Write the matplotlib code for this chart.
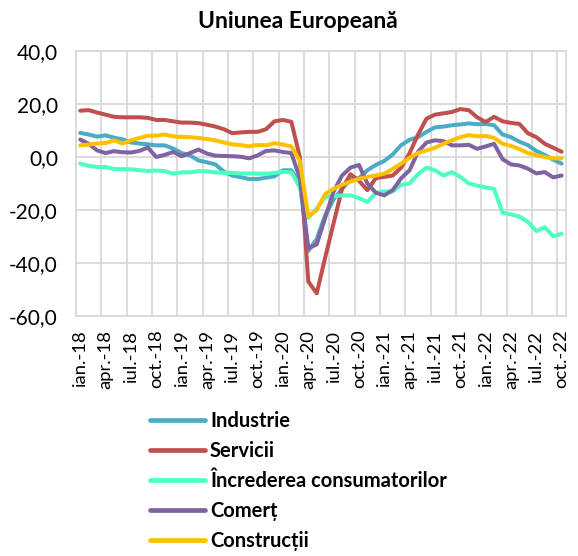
import numpy as np
import matplotlib
matplotlib.use("Agg")
import matplotlib.pyplot as plt

plt.rcParams['font.family'] = ['Lato', 'DejaVu Sans']

# luni ian.-18 ... oct.-22 (58 valori)
years = ['18', '19', '20', '21', '22']
months = ['ian.', 'feb.', 'mar.', 'apr.', 'mai', 'iun.', 'iul.', 'aug.', 'sep.', 'oct.', 'nov.', 'dec.']
labels = [m + '-' + y for y in years for m in months][:58]

industrie = [9.1, 8.5, 7.7, 8.2, 7.3, 6.7, 5.5, 5.1, 4.8, 4.4, 4.4, 3.2,
             1.5, 0.6, -1.3, -2.0, -2.8, -5.5, -7.0, -7.6, -8.3, -8.3, -7.8, -7.3,
             -5.0, -5.0, -10.0, -35.5, -31.0, -22.0, -16.0, -12.0, -8.5, -8.0, -5.0, -3.0,
             -1.5, 1.0, 4.5, 6.5, 7.5, 9.5, 11.2, 11.5, 12.0, 12.3, 12.7, 12.4,
             12.5, 12.0, 8.5, 7.5, 5.8, 4.5, 2.3, 0.8, -1.0, -2.5]
servicii = [17.5, 17.7, 16.8, 16.0, 15.2, 15.0, 15.0, 15.0, 14.8, 14.0, 14.0, 13.5,
            13.0, 13.0, 12.8, 12.2, 11.5, 10.5, 9.0, 9.3, 9.5, 9.5, 10.5, 13.5,
            14.0, 13.3, 0.0, -47.0, -51.5, -38.0, -25.0, -12.0, -6.5, -9.0, -12.5, -8.0,
            -7.5, -7.0, -4.0, 1.5, 8.5, 14.5, 16.0, 16.5, 17.0, 18.1, 17.7, 15.0,
            13.2, 15.2, 13.5, 12.9, 12.5, 9.0, 7.5, 5.0, 3.5, 2.0]
consumatori = [-2.5, -3.3, -3.8, -3.8, -4.5, -4.6, -4.6, -5.0, -5.3, -5.1, -5.3, -6.3,
               -5.8, -5.8, -5.3, -5.4, -5.8, -6.0, -6.0, -6.2, -6.2, -6.3, -6.3, -6.0,
               -5.6, -5.8, -11.5, -23.0, -19.5, -15.0, -14.8, -14.5, -14.5, -15.5, -17.0, -13.5,
               -13.0, -13.0, -10.5, -10.0, -6.5, -4.0, -5.0, -7.0, -5.7, -7.5, -10.0, -10.8,
               -11.5, -12.0, -21.0, -21.7, -22.5, -24.5, -28.0, -26.5, -30.0, -29.0]
comert = [6.6, 5.0, 2.5, 1.5, 2.2, 1.8, 1.7, 2.3, 3.6, 0.0, 0.8, 1.9,
          0.3, 1.5, 2.8, 1.3, 0.5, 0.4, 0.3, 0.1, -0.5, 0.6, 2.3, 2.5,
          1.9, 1.5, -8.0, -34.5, -33.0, -23.0, -13.0, -7.0, -4.0, -3.0, -10.0, -13.5,
          -14.5, -12.5, -8.0, -5.0, 2.0, 5.5, 6.3, 6.0, 4.4, 4.4, 4.6, 3.1,
          4.0, 5.0, -0.8, -2.8, -3.2, -4.4, -6.2, -5.7, -7.7, -7.0]
constructii = [4.4, 4.7, 5.1, 5.3, 6.3, 5.1, 6.3, 7.2, 8.0, 8.1, 8.5, 7.8,
               7.6, 7.5, 7.2, 6.8, 6.3, 5.5, 4.8, 4.5, 4.0, 4.6, 4.4, 5.2,
               4.7, 4.0, -1.5, -22.5, -20.0, -14.0, -12.0, -10.5, -9.3, -8.3, -7.5, -7.0,
               -6.3, -4.5, -2.5, -0.3, 1.5, 2.5, 3.5, 5.0, 6.3, 7.5, 8.3, 7.8,
               8.0, 7.2, 5.0, 4.2, 3.0, 1.5, 0.7, 0.0, -0.5, -0.5]

series = [
    ('Industrie', industrie, '#4BACC6'),
    ('Servicii', servicii, '#C0504D'),
    ('\u00cencrederea consumatorilor', consumatori, '#4DFFC0'),
    ('Comer\u021b', comert, '#8064A2'),
    ('Construc\u021bii', constructii, '#FFC000'),
]

fig = plt.figure(figsize=(5.78, 5.56), dpi=100)
ax = fig.add_axes([0.1315, 0.432, 0.8475, 0.476])

x = np.arange(len(labels))
for name, vals, col in series:
    ax.plot(x, vals, color=col, lw=2.9, label=name, solid_capstyle='round', solid_joinstyle='round')

ax.set_xlim(-0.5, len(labels) - 0.5)
ax.set_ylim(-60, 40)
ax.set_yticks(np.arange(-60, 41, 20))
ax.yaxis.set_major_formatter(matplotlib.ticker.FuncFormatter(lambda v, p: ('%.1f' % v).replace('.', ',')))
ax.set_xticks(x[::3])
ax.set_xticklabels(labels[::3], rotation=90)
ax.set_xticks(np.arange(-0.5, len(labels), 3), minor=True)
ax.tick_params(axis='x', which='both', length=0, labelsize=13.3, pad=10)
ax.tick_params(axis='y', length=0, labelsize=15, pad=13)
ax.grid(True, which='minor', axis='x', color='#D9D9D9', lw=1.3)
ax.grid(True, which='major', axis='y', color='#D9D9D9', lw=1.3)
ax.set_axisbelow(True)
for s in ax.spines.values():
    s.set_color('#D9D9D9')
    s.set_linewidth(1.3)

fig.text(0.515, 0.962, 'Uniunea European\u0103', ha='center', va='center', fontsize=16.5, fontweight='bold')

leg = fig.legend(loc='upper left', bbox_to_anchor=(0.245, 0.275), frameon=False,
                 prop={'weight': 'bold', 'size': 14.5}, handlelength=2.75,
                 handletextpad=0.25, labelspacing=0.5, borderaxespad=0)
for h in leg.get_lines():
    h.set_linewidth(3.4)
    h.set_solid_capstyle('round')

fig.savefig('out.png', dpi=100)
